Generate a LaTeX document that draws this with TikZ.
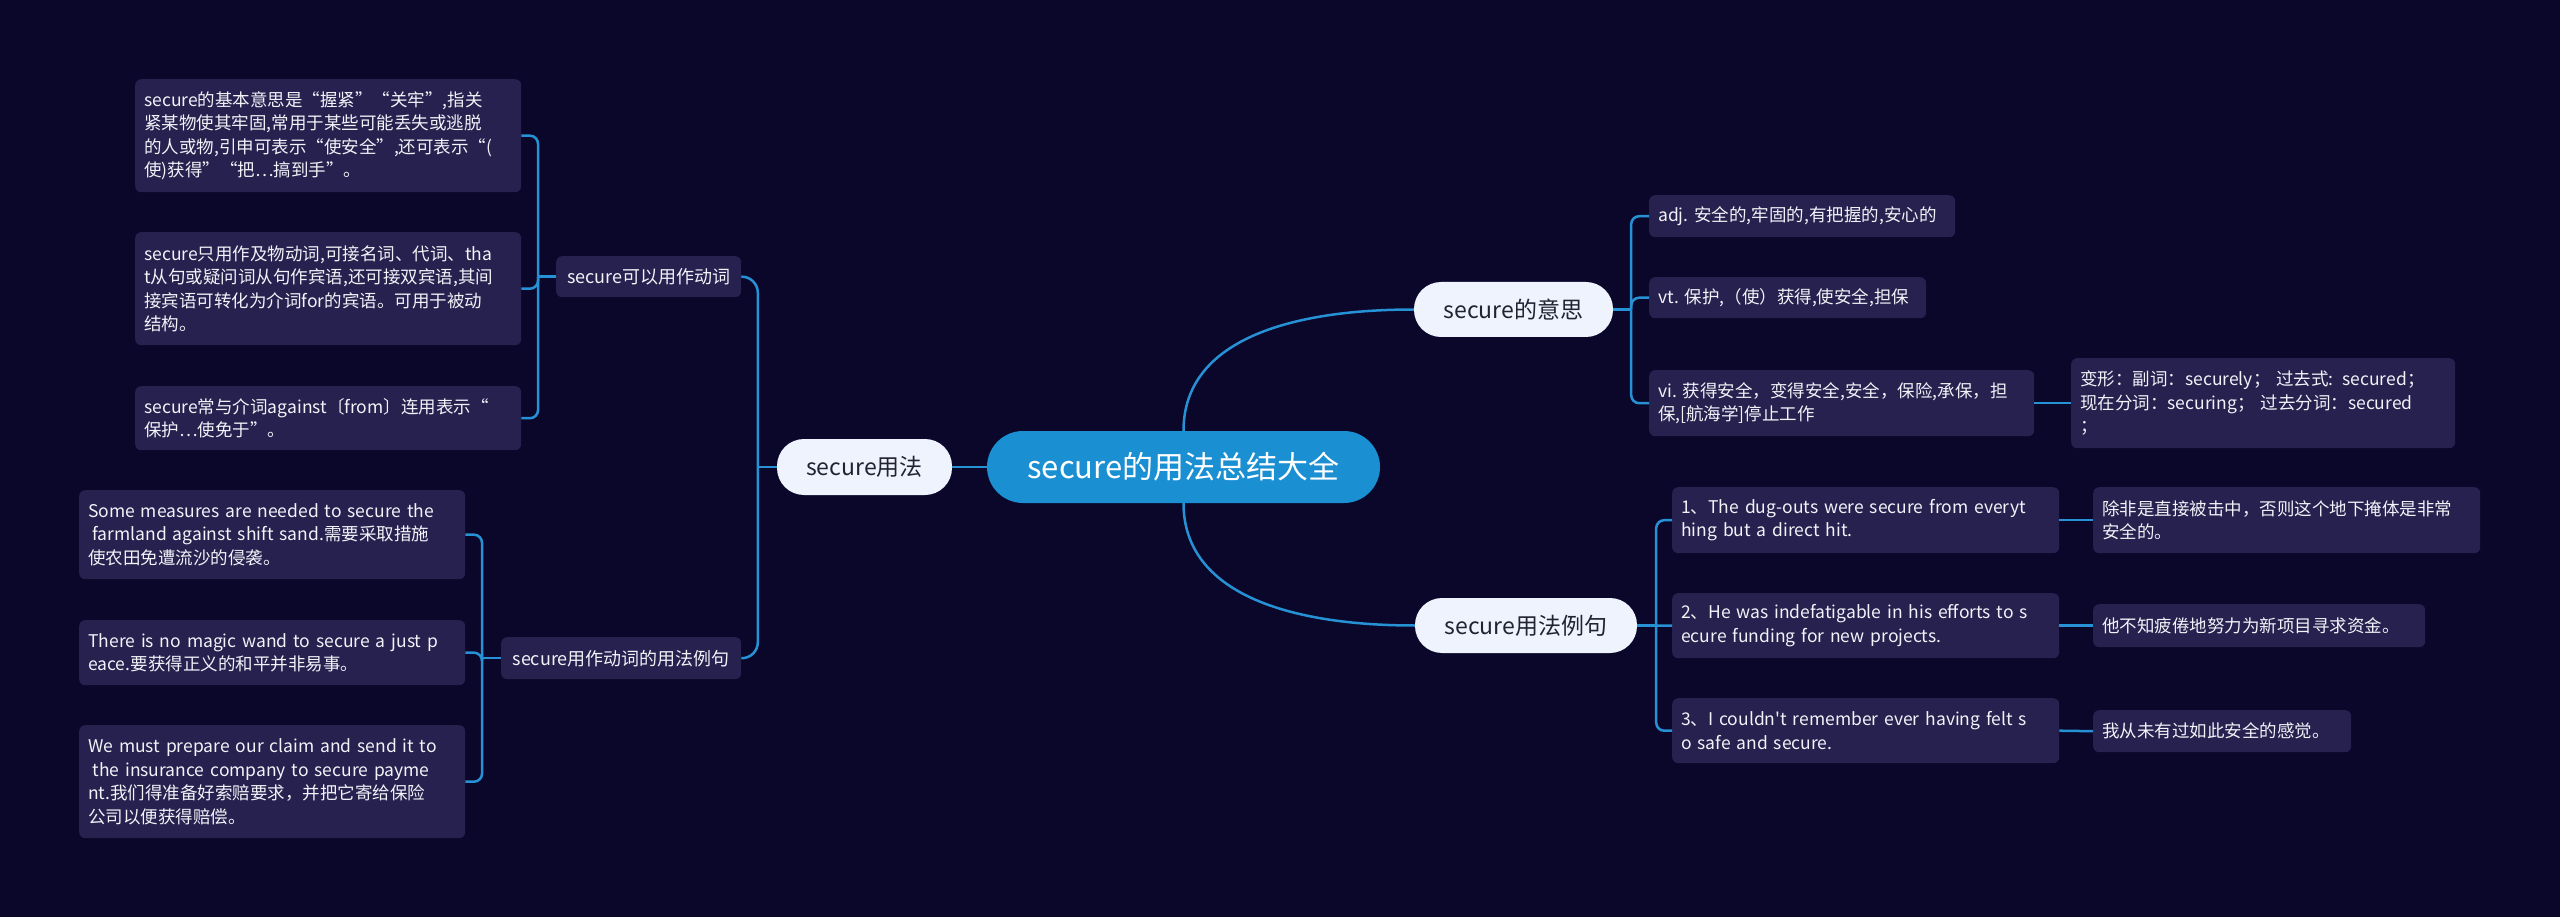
\documentclass[tikz,border=0pt]{standalone}
\usepackage{fontspec}
\setmainfont{Noto Sans CJK SC}[Ligatures=TeXOff]
\definecolor{bgc}{HTML}{0B072A}
\definecolor{boxc}{HTML}{26214E}
\definecolor{linec}{HTML}{2691D4}
\definecolor{rootc}{HTML}{1A8FD2}
\definecolor{pillc}{HTML}{EEF3FD}
\definecolor{pilltxt}{HTML}{222233}
\definecolor{boxtxt}{HTML}{F2F2F8}
\begin{document}
\begin{tikzpicture}[x=1pt, y=-1pt,
  link/.style={draw=linec, line width=2.5pt},
  leaf/.style={fill=boxc, text=boxtxt, rounded corners=6pt, align=left, anchor=north west,
    inner xsep=9pt, inner ysep=0pt, font=\fontsize{17.5}{23.5}\selectfont},
  sub/.style={fill=boxc, text=boxtxt, rounded corners=6pt, anchor=north west,
    inner sep=0pt, font=\fontsize{18}{22}\selectfont},
  pill/.style={fill=pillc, text=pilltxt, rounded corners=27pt, minimum height=55pt,
    inner sep=0pt, font=\fontsize{23}{26}\selectfont}]
% background
\fill[bgc] (0,0) rectangle (2560,917);
% centre and first level
\node[fill=rootc, text=white, rounded corners=36pt, minimum width=393pt, minimum height=72pt,
  inner sep=0pt, font=\fontsize{31}{34}\selectfont] (root) at (1183.5,467) {secure的用法总结大全};
\node[pill, minimum width=175pt, minimum height=56pt] (yf) at (864.5,467) {secure用法};
\node[pill, minimum width=199pt] (ys) at (1513.5,309.5) {secure的意思};
\node[pill, minimum width=222pt] (ylj) at (1526,625.5) {secure用法例句};
% left branch
\node[sub, minimum width=185pt, minimum height=41pt] (dc) at (556,256) {secure可以用作动词};
\node[sub, minimum width=240pt, minimum height=42pt] (dl) at (501,637) {secure用作动词的用法例句};
\node[leaf, text width=368pt, minimum height=113pt] (l1) at (135,79)
  {secure的基本意思是“握紧”“关牢”,指关\\紧某物使其牢固,常用于某些可能丢失或逃脱\\的人或物,引申可表示“使安全”,还可表示“(\\使)获得”“把…搞到手”。};
\node[leaf, text width=368pt, minimum height=113pt] (l2) at (135,232)
  {secure只用作及物动词,可接名词、代词、tha\\t从句或疑问词从句作宾语,还可接双宾语,其间\\接宾语可转化为介词for的宾语。可用于被动\\结构。};
\node[leaf, text width=368pt, minimum height=64pt] (l3) at (135,386)
  {secure常与介词against〔from〕连用表示“\\保护…使免于”。};
\node[leaf, text width=368pt, minimum height=89pt] (sa) at (79,490)
  {Some measures are needed to secure the\\\hspace*{.25em}farmland against shift sand.需要采取措施\\使农田免遭流沙的侵袭。};
\node[leaf, text width=368pt, minimum height=65pt] (sb) at (79,620)
  {There is no magic wand to secure a just p\\eace.要获得正义的和平并非易事。};
\node[leaf, text width=368pt, minimum height=113pt] (sc) at (79,725)
  {We must prepare our claim and send it to\\\hspace*{.25em}the insurance company to secure payme\\nt.我们得准备好索赔要求，并把它寄给保险\\公司以便获得赔偿。};
% right branch
\node[leaf, text width=288pt, minimum height=42pt] (adj) at (1649,195) {adj.~安全的,牢固的,有把握的,安心的};
\node[leaf, text width=259pt, minimum height=41pt] (vt) at (1649,277) {vt.~保护,（使）获得,使安全,担保};
\node[leaf, text width=367pt, minimum height=66pt] (vi) at (1649,370)
  {vi.~获得安全，变得安全,安全，保险,承保，担\\保,[航海学]停止工作};
\node[leaf, text width=366pt, minimum height=90pt] (bx) at (2071,358)
  {变形：副词：securely； 过去式: secured；\\现在分词：securing； 过去分词：secured\\；};
\node[leaf, text width=369pt, minimum height=66pt] (e1) at (1672,487)
  {1、The dug-outs were secure from everyt\\hing but a direct hit.};
\node[leaf, text width=369pt, minimum height=65pt] (e2) at (1672,593)
  {2、He was indefatigable in his efforts to s\\ecure funding for new projects.};
\node[leaf, text width=369pt, minimum height=65pt] (e3) at (1672,698)
  {3、I couldn't remember ever having felt s\\o safe and secure.};
\node[leaf, text width=369pt, minimum height=66pt] (t1) at (2093,487)
  {除非是直接被击中，否则这个地下掩体是非常\\安全的。};
\node[leaf, text width=314pt, minimum height=43pt] (t2) at (2093,604) {他不知疲倦地努力为新项目寻求资金。};
\node[leaf, text width=240pt, minimum height=42pt] (t3) at (2093,710) {我从未有过如此安全的感觉。};
% links from the centre
\draw[link] (root.west) -- (yf.east);
\draw[link] (root.north) .. controls (1183.5,340) and (1290,309.5) .. (ys.west);
\draw[link] (root.south) .. controls (1183.5,594) and (1290,625.5) .. (ylj.west);
% left links
\draw[link] (yf.west) -- ++(-19,0) coordinate (jl);
\draw[link, rounded corners=16pt] (jl) |- (dc.east);
\draw[link, rounded corners=16pt] (jl) |- (dl.east);
\draw[link] (dc.west) -- ++(-18,0) coordinate (jd);
\foreach \n in {l1,l2,l3} \draw[link, rounded corners=8pt] (jd) |- (\n.east);
\draw[link] (dl.west) -- ++(-19,0) coordinate (jv);
\foreach \n in {sa,sb,sc} \draw[link, rounded corners=8pt] (jv) |- (\n.east);
% right links
\draw[link] (ys.east) -- ++(18,0) coordinate (jr);
\foreach \n in {adj,vt,vi} \draw[link, rounded corners=8pt] (jr) |- (\n.west);
\draw[link] (vi.east) -- (bx.west);
\draw[link] (ylj.east) -- ++(19,0) coordinate (jx);
\draw[link, rounded corners=8pt] (jx) |- (e1.west);
\draw[link] (jx) -- (e2.west);
\draw[link, rounded corners=8pt] (jx) |- (e3.west);
\foreach \a/\b in {e1/t1,e2/t2,e3/t3} \draw[link] (\a.east) -- (\b.west);
\end{tikzpicture}
\end{document}
